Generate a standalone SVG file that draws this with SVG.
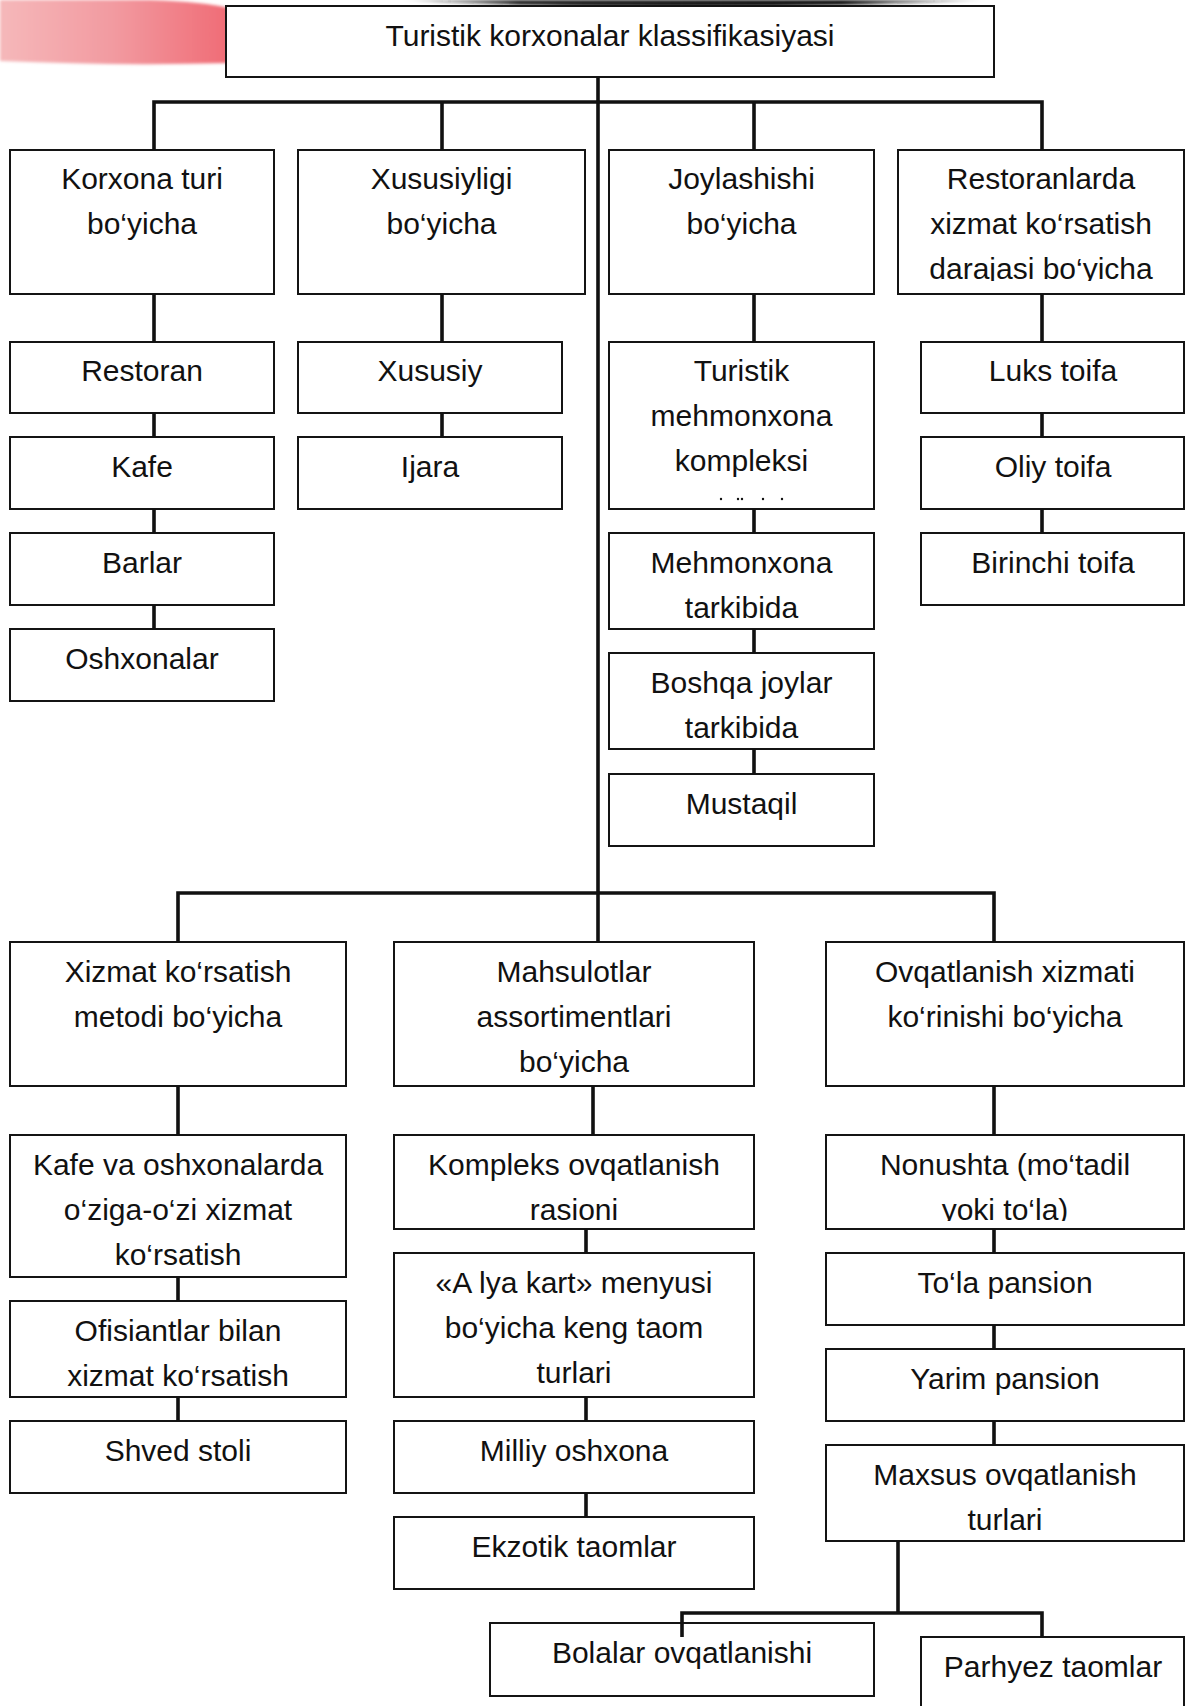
<svg xmlns="http://www.w3.org/2000/svg" width="1186" height="1706" viewBox="0 0 1186 1706">
<defs>
<style>
.b{fill:#fff;stroke:#141414;stroke-width:2}
.t{font-family:"Liberation Sans",Arial,sans-serif;font-size:30px;fill:#111;text-anchor:middle}
.c{fill:none;stroke:#111;stroke-width:3.6;stroke-linejoin:miter}
</style>
<linearGradient id="pink" x1="0" y1="0" x2="1" y2="0">
<stop offset="0" stop-color="#f5b8ba"/>
<stop offset="0.5" stop-color="#f29aa0"/>
<stop offset="1" stop-color="#f06c76"/>
</linearGradient>
<linearGradient id="dark" x1="0" y1="0" x2="1" y2="0">
<stop offset="0" stop-color="#111" stop-opacity="0"/>
<stop offset="0.2" stop-color="#111" stop-opacity="0.9"/>
<stop offset="0.75" stop-color="#111" stop-opacity="1"/>
<stop offset="1" stop-color="#111" stop-opacity="0"/>
</linearGradient>
<filter id="blur" x="-10%" y="-50%" width="120%" height="200%"><feGaussianBlur stdDeviation="1.8"/></filter>
<clipPath id="clipD"><rect x="898" y="150" width="286" height="131"/></clipPath>
<clipPath id="clipM"><rect x="394" y="942" width="360" height="137"/></clipPath>
<clipPath id="clipN"><rect x="826" y="1135" width="358" height="86"/></clipPath>
</defs>

<g id="decoration">
<path d="M0,0 H150 Q205,2 228,8 V63 Q120,66 0,61 Z" fill="url(#pink)" filter="url(#blur)"/>
<path d="M400,0 C500,8 820,9 990,0 Z" fill="url(#dark)" filter="url(#blur)"/>
</g>

<g id="nodes">
<g id="n-root"><rect class="b" x="226" y="6" width="768" height="71"/><text class="t" x="610" y="46">Turistik korxonalar klassifikasiyasi</text></g>

<g id="n-korxona"><rect class="b" x="10" y="150" width="264" height="144"/><text class="t" x="142" y="189">Korxona turi</text><text class="t" x="142" y="234">bo‘yicha</text></g>
<g id="n-xususiyligi"><rect class="b" x="298" y="150" width="287" height="144"/><text class="t" x="441.5" y="189">Xususiyligi</text><text class="t" x="441.5" y="234">bo‘yicha</text></g>
<g id="n-joylashishi"><rect class="b" x="609" y="150" width="265" height="144"/><text class="t" x="741.5" y="189">Joylashishi</text><text class="t" x="741.5" y="234">bo‘yicha</text></g>
<g id="n-restoranlarda"><rect class="b" x="898" y="150" width="286" height="144"/><g clip-path="url(#clipD)"><text class="t" x="1041" y="189">Restoranlarda</text><text class="t" x="1041" y="234">xizmat ko‘rsatish</text><text class="t" x="1041" y="279">darajasi bo‘yicha</text></g></g>

<g id="n-restoran"><rect class="b" x="10" y="342" width="264" height="71"/><text class="t" x="142" y="381">Restoran</text></g>
<g id="n-kafe"><rect class="b" x="10" y="437" width="264" height="72"/><text class="t" x="142" y="477">Kafe</text></g>
<g id="n-barlar"><rect class="b" x="10" y="533" width="264" height="72"/><text class="t" x="142" y="573">Barlar</text></g>
<g id="n-oshxonalar"><rect class="b" x="10" y="629" width="264" height="72"/><text class="t" x="142" y="669">Oshxonalar</text></g>

<g id="n-xususiy"><rect class="b" x="298" y="342" width="264" height="71"/><text class="t" x="430" y="381">Xususiy</text></g>
<g id="n-ijara"><rect class="b" x="298" y="437" width="264" height="72"/><text class="t" x="430" y="477">Ijara</text></g>

<g id="n-turistik"><rect class="b" x="609" y="342" width="265" height="167"/><text class="t" x="741.5" y="381">Turistik</text><text class="t" x="741.5" y="426">mehmonxona</text><text class="t" x="741.5" y="471">kompleksi</text>
<g fill="#111"><circle cx="721" cy="499" r="1.2"/><circle cx="738" cy="499" r="1.2"/><circle cx="742" cy="499" r="1.2"/><circle cx="763" cy="499" r="1.2"/><circle cx="782" cy="499" r="1.2"/></g></g>
<g id="n-mehmonxona"><rect class="b" x="609" y="533" width="265" height="96"/><text class="t" x="741.5" y="573">Mehmonxona</text><text class="t" x="741.5" y="618">tarkibida</text></g>
<g id="n-boshqa"><rect class="b" x="609" y="653" width="265" height="96"/><text class="t" x="741.5" y="693">Boshqa joylar</text><text class="t" x="741.5" y="738">tarkibida</text></g>
<g id="n-mustaqil"><rect class="b" x="609" y="774" width="265" height="72"/><text class="t" x="741.5" y="814">Mustaqil</text></g>

<g id="n-luks"><rect class="b" x="921" y="342" width="263" height="71"/><text class="t" x="1053" y="381">Luks toifa</text></g>
<g id="n-oliy"><rect class="b" x="921" y="437" width="263" height="72"/><text class="t" x="1053" y="477">Oliy toifa</text></g>
<g id="n-birinchi"><rect class="b" x="921" y="533" width="263" height="72"/><text class="t" x="1053" y="573">Birinchi toifa</text></g>

<g id="n-xizmat"><rect class="b" x="10" y="942" width="336" height="144"/><text class="t" x="178" y="982">Xizmat ko‘rsatish</text><text class="t" x="178" y="1027">metodi bo‘yicha</text></g>
<g id="n-mahsulotlar"><rect class="b" x="394" y="942" width="360" height="144"/><g clip-path="url(#clipM)"><text class="t" x="574" y="982">Mahsulotlar</text><text class="t" x="574" y="1027">assortimentlari</text><text class="t" x="574" y="1072">bo‘yicha</text></g></g>
<g id="n-ovqatlanish"><rect class="b" x="826" y="942" width="358" height="144"/><text class="t" x="1005" y="982">Ovqatlanish xizmati</text><text class="t" x="1005" y="1027">ko‘rinishi bo‘yicha</text></g>

<g id="n-kafeva"><rect class="b" x="10" y="1135" width="336" height="142"/><text class="t" x="178" y="1175">Kafe va oshxonalarda</text><text class="t" x="178" y="1220">o‘ziga-o‘zi xizmat</text><text class="t" x="178" y="1265">ko‘rsatish</text></g>
<g id="n-ofisiantlar"><rect class="b" x="10" y="1301" width="336" height="96"/><text class="t" x="178" y="1341">Ofisiantlar bilan</text><text class="t" x="178" y="1386">xizmat ko‘rsatish</text></g>
<g id="n-shved"><rect class="b" x="10" y="1421" width="336" height="72"/><text class="t" x="178" y="1461">Shved stoli</text></g>

<g id="n-kompleks"><rect class="b" x="394" y="1135" width="360" height="94"/><text class="t" x="574" y="1175">Kompleks ovqatlanish</text><text class="t" x="574" y="1220">rasioni</text></g>
<g id="n-alyakart"><rect class="b" x="394" y="1253" width="360" height="144"/><text class="t" x="574" y="1293">«A lya kart» menyusi</text><text class="t" x="574" y="1338">bo‘yicha keng taom</text><text class="t" x="574" y="1383">turlari</text></g>
<g id="n-milliy"><rect class="b" x="394" y="1421" width="360" height="72"/><text class="t" x="574" y="1461">Milliy oshxona</text></g>
<g id="n-ekzotik"><rect class="b" x="394" y="1517" width="360" height="72"/><text class="t" x="574" y="1557">Ekzotik taomlar</text></g>

<g id="n-nonushta"><rect class="b" x="826" y="1135" width="358" height="94"/><g clip-path="url(#clipN)"><text class="t" x="1005" y="1175">Nonushta (mo‘tadil</text><text class="t" x="1005" y="1220">yoki to‘la)</text></g></g>
<g id="n-tola"><rect class="b" x="826" y="1253" width="358" height="72"/><text class="t" x="1005" y="1293">To‘la pansion</text></g>
<g id="n-yarim"><rect class="b" x="826" y="1349" width="358" height="72"/><text class="t" x="1005" y="1389">Yarim pansion</text></g>
<g id="n-maxsus"><rect class="b" x="826" y="1445" width="358" height="96"/><text class="t" x="1005" y="1485">Maxsus ovqatlanish</text><text class="t" x="1005" y="1530">turlari</text></g>

<g id="n-bolalar"><rect class="b" x="490" y="1623" width="384" height="73"/><text class="t" x="682" y="1663">Bolalar ovqatlanishi</text></g>
<g id="n-parhyez"><rect class="b" x="921" y="1637" width="263" height="90"/><text class="t" x="1053" y="1677">Parhyez taomlar</text></g>
</g>

<g id="connectors" class="c">
<path d="M598,77 V942"/>
<path d="M154,150 V102 H1042 V150"/>
<path d="M442,102 V150"/>
<path d="M754,102 V150"/>
<path d="M154,294 V342 M154,413 V437 M154,509 V533 M154,605 V629"/>
<path d="M442,294 V342 M442,413 V437"/>
<path d="M754,294 V342 M754,509 V533 M754,629 V653 M754,749 V774"/>
<path d="M1042,294 V342 M1042,413 V437 M1042,509 V533"/>
<path d="M178,942 V893 H994 V942"/>
<path d="M178,1086 V1135 M178,1277 V1301 M178,1397 V1421"/>
<path d="M593,1086 V1135 M586,1229 V1253 M586,1397 V1421 M586,1493 V1517"/>
<path d="M994,1086 V1135 M994,1229 V1253 M994,1325 V1349 M994,1421 V1445"/>
<path d="M898,1541 V1613"/>
<path d="M682,1637 V1613 H1042 V1637"/>
</g>
</svg>
